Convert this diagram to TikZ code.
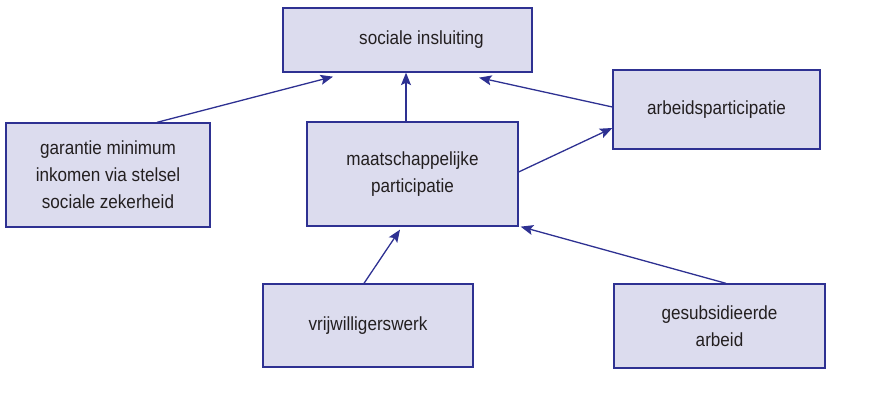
\documentclass[tikz,border=0pt]{standalone}
\usepackage{fontspec}
\setmainfont{Liberation Sans}[FakeStretch=0.9]
\usetikzlibrary{arrows.meta}
\definecolor{navy}{HTML}{2E3192}
\definecolor{boxfill}{HTML}{DCDCEE}
\definecolor{txt}{HTML}{231F20}
\tikzset{
  box/.style={draw=navy, fill=boxfill, line width=1.3pt, align=center,
    text=txt, font=\fontsize{19}{27}\selectfont, inner sep=0pt},
  conn/.style={draw=navy, line width=1.3pt, -{Stealth[length=12.5pt,width=10pt,inset=2.5pt]}}
}
\begin{document}
\begin{tikzpicture}[x=1pt,y=1pt]
\useasboundingbox (0,0) rectangle (877,406);
\node[box, minimum width=249pt, minimum height=64pt] (soc) at (407.5,366) {\hspace*{28pt}sociale insluiting};
\node[box, minimum width=204pt, minimum height=104pt] (gar) at (108,231) {garantie minimum\\inkomen via stelsel\\sociale zekerheid};
\node[box, minimum width=211pt, minimum height=104pt] (maat) at (412.5,232) {maatschappelijke\\participatie};
\node[box, minimum width=207pt, minimum height=79pt] (arb) at (716.5,296.5) {arbeidsparticipatie};
\node[box, minimum width=210pt, minimum height=83pt] (vrij) at (368,80.5) {vrijwilligerswerk};
\node[box, minimum width=211pt, minimum height=84pt] (gesub) at (719.5,80) {gesubsidieerde\\arbeid};
\draw[conn] ([xshift=49pt]gar.north) -- ([xshift=-74.5pt,yshift=-4pt]soc.south);
\draw[conn] ([xshift=-6.5pt]maat.north) -- ([xshift=-1.5pt]soc.south);
\draw[conn] ([yshift=2.5pt]arb.west) -- ([xshift=71.5pt,yshift=-5pt]soc.south);
\draw[conn] ([yshift=2pt]maat.east) -- ([yshift=-18.5pt]arb.west);
\draw[conn] ([xshift=-4pt]vrij.north) -- ([xshift=-12.5pt,yshift=-3pt]maat.south);
\draw[conn] ([xshift=6.5pt]gesub.north) -- ([xshift=2pt]maat.south east);
\end{tikzpicture}
\end{document}
